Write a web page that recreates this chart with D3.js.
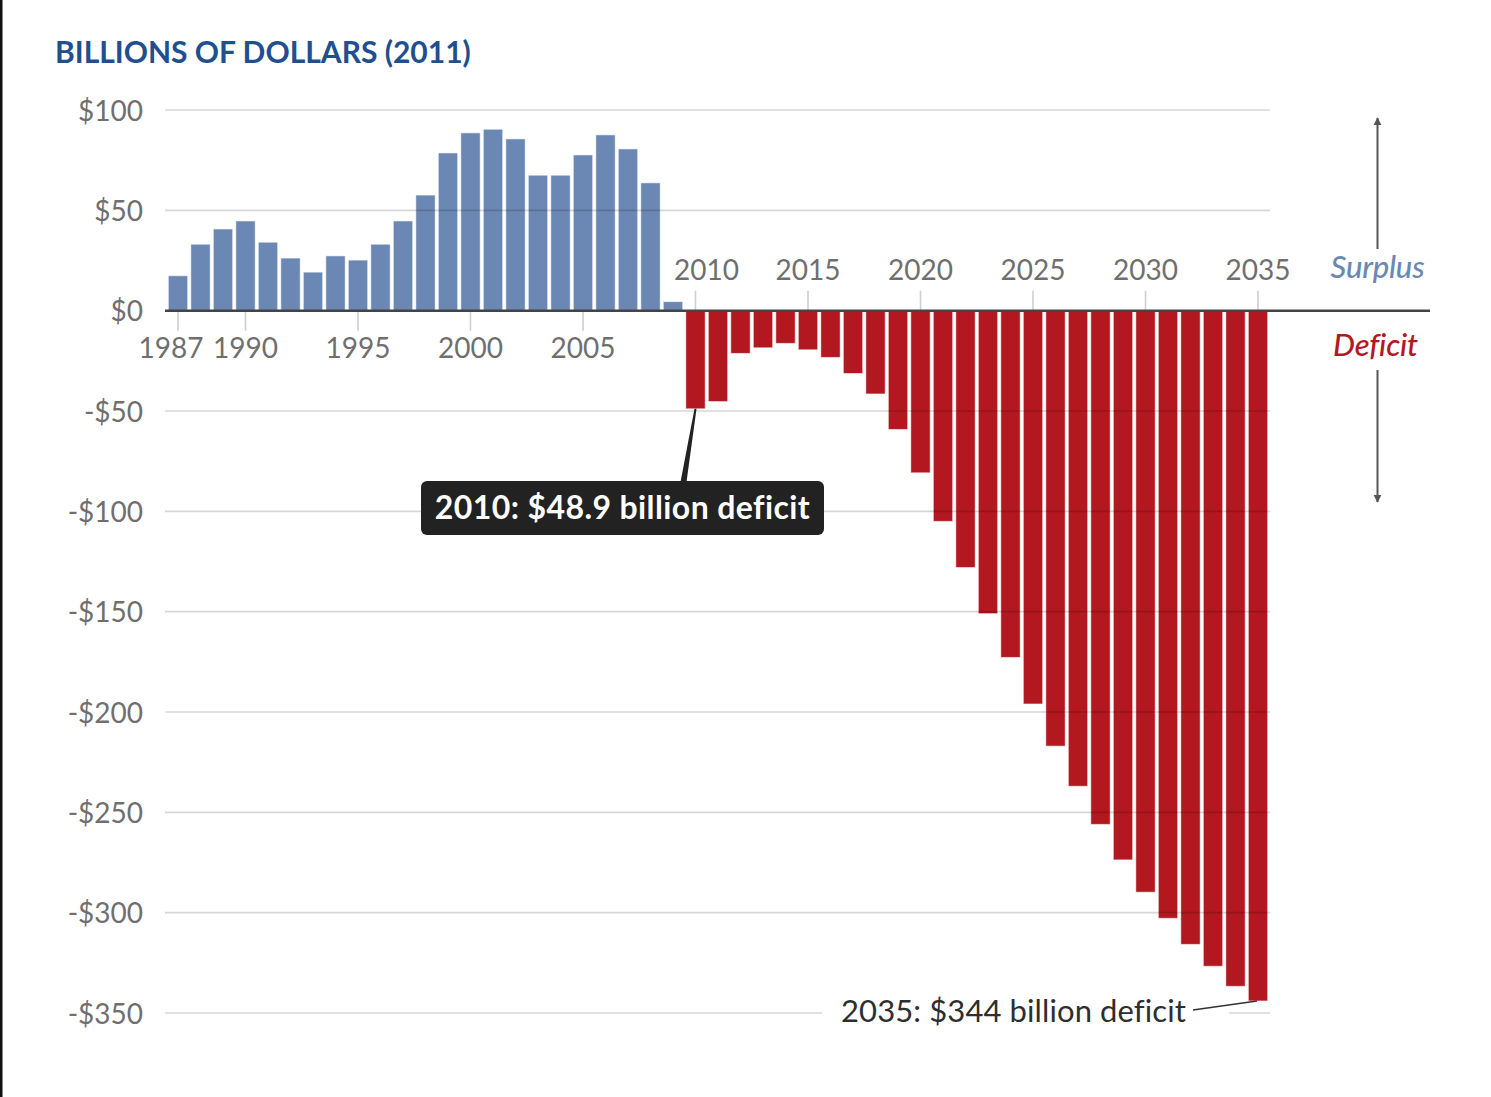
<!DOCTYPE html>
<html>
<head>
<meta charset="utf-8">
<script src="https://cdn.jsdelivr.net/npm/d3@7"></script>
<style>
  html, body { margin: 0; padding: 0; background: #fff; }
  svg { display: block; }
  text { font-family: Lato, "Open Sans", sans-serif; }
</style>
</head>
<body>
<svg id="chart" width="1491" height="1097"></svg>
<script>
// ---- Data (billions of 2011 dollars) ----
const years = d3.range(1987, 2036);
const balances = [
  17.4, 33.1, 40.7, 44.7, 34.1, 26.2, 19.2, 27.3, 25.2, 33.1,   // 1987-1996
  44.7, 57.6, 78.6, 88.6, 90.4, 85.6, 67.5, 67.5, 77.6, 87.6,   // 1997-2006
  80.6, 63.7, 4.5,                                              // 2007-2009
  -48.9, -45.3, -21.3, -18.5, -16.3, -19.5, -23.3, -31.3, -41.5, -59.2, // 2010-2019
  -80.8, -105, -128, -151, -172.8, -196, -217, -237, -256, -273.7,      // 2020-2029
  -289.8, -302.8, -315.8, -326.7, -336.7, -344                           // 2030-2035
];
const yTicks = [100, 50, 0, -50, -100, -150, -200, -250, -300, -350];
const pastTickYears = [1987, 1990, 1995, 2000, 2005];
const futureTickYears = [2010, 2015, 2020, 2025, 2030, 2035];
const titleText = "BILLIONS OF DOLLARS (2011)";
const surplusLabel = "Surplus";
const deficitLabel = "Deficit";
const note2010 = "2010: $48.9 billion deficit";
const note2035 = "2035: $344 billion deficit";

const data = years.map((y, i) => ({ year: y, value: balances[i] }));

// ---- Colours ----
const blue = "#6b87b3";
const red = "#b3171f";
const gray = "#6f6f6f";

const svg = d3.select("#chart");

const x = d3.scaleBand()
  .domain(years)
  .range([166.75, 1269.25])
  .paddingInner(0.14)
  .paddingOuter(0.07);

const y = d3.scaleLinear().domain([-350, 100]).range([1013, 110]);

// left frame edge
svg.append("rect").attr("x", 0).attr("y", 0).attr("width", 2.5).attr("height", 1097).attr("fill", "#111");

// title
svg.append("text")
  .attr("x", 55).attr("y", 63)
  .attr("fill", "#1f4f8f")
  .attr("font-size", 30)
  .attr("font-weight", 700)
  .attr("letter-spacing", 0)
  .text(titleText);

// y-axis labels
const yAxis = d3.axisLeft(y).tickValues(yTicks).tickSize(0).tickPadding(0)
  .tickFormat(d => (d < 0 ? "-$" : "$") + Math.abs(d));
const yG = svg.append("g").attr("transform", "translate(143,0)").call(yAxis);
yG.select(".domain").remove();
yG.selectAll("text")
  .attr("font-family", "Lato, sans-serif")
  .attr("font-size", 28)
  .attr("fill", gray)
  .attr("dy", "0.36em");

// bars
svg.append("g").selectAll("rect")
  .data(data)
  .join("rect")
  .attr("x", d => x(d.year))
  .attr("width", x.bandwidth())
  .attr("y", d => y(Math.max(0, d.value)))
  .attr("height", d => Math.abs(y(d.value) - y(0)))
  .attr("fill", d => d.value >= 0 ? blue : red)
  .attr("stroke", "rgba(255,255,255,0.55)")
  .attr("stroke-width", 1);

// gridlines (drawn over bars, translucent)
svg.append("g").selectAll("line")
  .data(yTicks.filter(d => d !== 0))
  .join("line")
  .attr("x1", 165).attr("x2", 1270)
  .attr("y1", d => y(d)).attr("y2", d => y(d))
  .attr("stroke", "rgba(0,0,0,0.16)")
  .attr("stroke-width", 1.6);

// x-axis: past years (labels below zero line)
const cx = d => x(d) + x.bandwidth() / 2;
const pastAxis = d3.axisBottom(x).tickValues(pastTickYears).tickSize(20).tickPadding(6);
const pG = svg.append("g").attr("transform", `translate(0,${y(0)})`).call(pastAxis);
pG.select(".domain").remove();
pG.selectAll(".tick line").attr("stroke", "#cfcfcf").attr("stroke-width", 1.6);
pG.selectAll(".tick text")
  .attr("font-family", "Lato, sans-serif")
  .attr("font-size", 28).attr("fill", gray)
  .attr("y", 0).attr("dy", 47)
  .attr("dx", d => d === 1987 ? -7 : 0);

// x-axis: future years (labels above zero line)
const futAxis = d3.axisTop(x).tickValues(futureTickYears).tickSize(20).tickPadding(6);
const fG = svg.append("g").attr("transform", `translate(0,${y(0)})`).call(futAxis);
fG.select(".domain").remove();
fG.selectAll(".tick line").attr("stroke", "#cfcfcf").attr("stroke-width", 1.6);
fG.selectAll(".tick text")
  .attr("font-family", "Lato, sans-serif")
  .attr("font-size", 28).attr("fill", gray)
  .attr("y", 0).attr("dy", -31)
  .attr("dx", d => d === 2010 ? 11 : 0);

// zero line
svg.append("line")
  .attr("x1", 165).attr("x2", 1430)
  .attr("y1", y(0)).attr("y2", y(0))
  .attr("stroke", "#444").attr("stroke-width", 2.5);

// surplus / deficit legend with arrows
const defs = svg.append("defs");
defs.append("marker").attr("id", "arr").attr("viewBox", "0 0 10 10")
  .attr("refX", 9).attr("refY", 5).attr("markerWidth", 4).attr("markerHeight", 5)
  .attr("orient", "auto-start-reverse")
  .append("path").attr("d", "M0,0 L10,5 L0,10 Z").attr("fill", "#555");

const legX = 1377.5;
svg.append("line").attr("x1", legX).attr("x2", legX).attr("y1", 249).attr("y2", 118)
  .attr("stroke", "#555").attr("stroke-width", 2).attr("marker-end", "url(#arr)");
svg.append("line").attr("x1", legX).attr("x2", legX).attr("y1", 370).attr("y2", 502)
  .attr("stroke", "#555").attr("stroke-width", 2).attr("marker-end", "url(#arr)");
svg.append("text").attr("x", legX).attr("y", 278).attr("text-anchor", "middle")
  .attr("font-size", 31).attr("font-style", "italic").attr("font-weight", 500)
  .attr("fill", blue).attr("letter-spacing", -0.2).text(surplusLabel);
svg.append("text").attr("x", legX - 2).attr("y", 356).attr("text-anchor", "middle")
  .attr("font-size", 31).attr("font-style", "italic").attr("font-weight", 500)
  .attr("fill", red).attr("letter-spacing", -0.2).text(deficitLabel);

// 2010 annotation
const b2010 = data.find(d => d.year === 2010);
svg.append("path")
  .attr("d", `M${cx(2010) - 1},${y(b2010.value)} L${cx(2010) + 1},${y(b2010.value)} L${cx(2010) - 9},482 L${cx(2010) - 15},482 Z`)
  .attr("fill", "#222");
svg.append("rect")
  .attr("x", 421).attr("y", 481).attr("width", 403).attr("height", 54)
  .attr("rx", 6).attr("fill", "#222");
svg.append("text")
  .attr("x", 622.5).attr("y", 519).attr("text-anchor", "middle")
  .attr("font-size", 32).attr("font-weight", 700).attr("fill", "#fff")
  .attr("letter-spacing", 0.4)
  .text(note2010);

// 2035 annotation
const b2035 = data.find(d => d.year === 2035);
svg.append("rect").attr("x", 822).attr("y", 990).attr("width", 407).attr("height", 40).attr("fill", "#fff");
svg.append("text")
  .attr("x", 1186).attr("y", 1022).attr("text-anchor", "end")
  .attr("font-size", 31).attr("fill", "#2e2e2e").attr("letter-spacing", 0.1)
  .text(note2035);
svg.append("line")
  .attr("x1", 1193).attr("y1", 1010)
  .attr("x2", cx(2035) - 1).attr("y2", y(b2035.value))
  .attr("stroke", "#333").attr("stroke-width", 1.6);
</script>
</body>
</html>
